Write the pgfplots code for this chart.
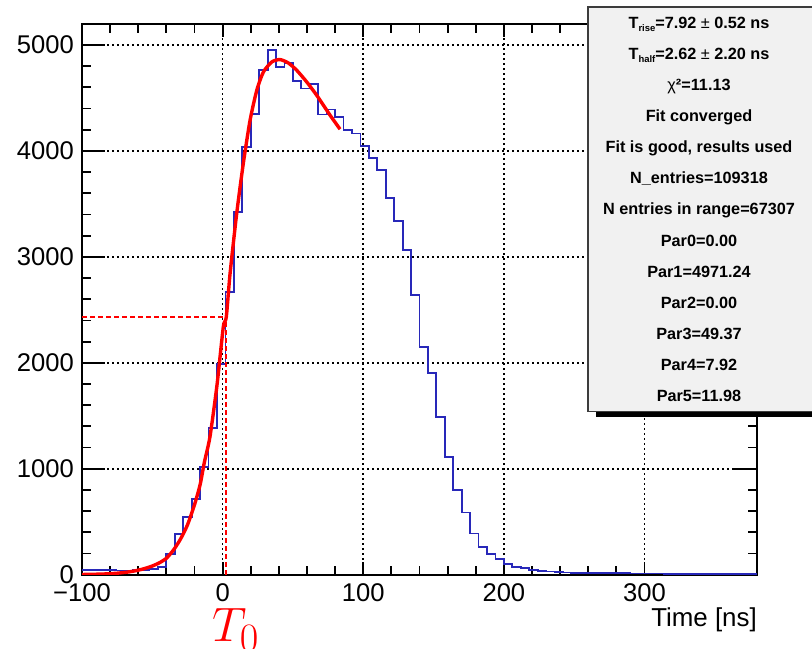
\documentclass[border=0pt]{standalone}
\usepackage{fontspec}
\setmainfont{Liberation Sans}
\usepackage{pgfplots}
\pgfplotsset{compat=1.18}
\usepackage{pgfplotstable}
\definecolor{histblue}{RGB}{40,40,185}
\definecolor{boxgray}{RGB}{241,241,241}
\definecolor{boxedge}{RGB}{60,60,60}

\pgfplotstableread{
x y
-100 45
-94 44
-88 43
-82 41
-76 39
-70 38
-64 42
-58 48
-52 53
-46 75
-40 192
-34 384
-28 547
-22 711
-16 1013
-10 1388
-4 1988
2 2670
8 3425
14 4038
20 4346
26 4761
32 4950
38 4792
44 4830
50 4657
56 4589
62 4629
68 4343
74 4390
80 4321
86 4195
92 4164
98 4045
104 3930
110 3820
116 3558
122 3335
128 3066
134 2638
140 2150
146 1906
152 1491
158 1111
164 803
170 587
176 389
182 264
188 193
194 145
200 100
206 70
212 62
218 45
224 35
230 30
236 24
242 20
248 18
254 17
260 16
266 15
272 14
278 14
284 13
290 12
296 12
302 11
308 11
314 10
320 10
326 9
332 9
338 9
344 8
350 8
356 8
362 7
368 7
374 7
380 7
}\histdata

\pgfplotstableread{
x y
-100 2
-92 4
-84 7
-76 13
-68 24
-62 37
-56 56
-50 82
-45 112
-40 155
-35 232
-30 335
-25 470
-20 660
-16 850
-13 1060
-9 1302
-4 1790
0.5 2340
2.6 2431
5.3 2843
10 3409
14.7 3881
19.5 4288
24.3 4573
29 4745
35 4840
40.8 4862
46.7 4830
52.7 4761
59.8 4651
66.9 4525
76.4 4337
83.5 4205
}\fitdata

\begin{document}
\begin{tikzpicture}
\useasboundingbox (0,0) rectangle (812bp,649bp);
\begin{axis}[
  at={(82bp,74.3bp)}, anchor=south west,
  width=675bp, height=550.4bp, scale only axis,
  xmin=-100, xmax=380, ymin=0, ymax=5195,
  xtick={-100,0,100,200,300}, xticklabels={−100,0,100,200,300},
  ytick={0,1000,2000,3000,4000,5000}, yticklabels={0,1000,2000,3000,4000,5000},
  minor x tick num=4, minor y tick num=4,
  tick align=inside,
  major tick length=13bp, minor tick length=9bp,
  extra y ticks={0,1000,2000,3000,4000,5000},
  extra y tick labels={},
  extra y tick style={major tick length=23bp, grid=none},
  grid=major,
  major grid style={black, line width=1.6bp, dash pattern=on 1.5bp off 3.5bp},
  axis line style={line width=2.2bp},
  tick style={black, line width=1.8bp},
  ticklabel style={font=\fontsize{25.7}{26}\selectfont},
  xticklabel style={inner sep=0pt, anchor=north, yshift=-9bp},
  yticklabel style={inner sep=0pt, anchor=east, xshift=-8bp},
  xlabel={Time [ns]},
  xlabel style={at={(rel axis cs:1,0)}, anchor=base east, inner sep=0pt, yshift=-51.3bp, font=\fontsize{26}{26}\selectfont},
]
\addplot[const plot mark left, histblue, line width=1.8bp] table {\histdata};
\addplot[red, line width=3.4bp, smooth, tension=0.4] table {\fitdata};
\addplot[red, line width=1.6bp, dash pattern=on 5bp off 3bp] coordinates {(2.6,0) (2.6,2431)};
\addplot[red, line width=1.6bp, dash pattern=on 5bp off 3bp] coordinates {(-100,2431) (2.6,2431)};
\end{axis}
\node[anchor=base west, inner sep=0pt, text=red] at (212bp,7bp) {\scalebox{1.95}{\fontsize{24.88}{25}\selectfont $\mathnormal{T}_0$}};
\fill[black] (596bp,231.7bp) rectangle (815bp,237.5bp);
\draw[fill=boxgray, draw=boxedge, line width=1.6bp] (588bp,237.3bp) rectangle (815bp,642bp);
\begin{scope}[every node/.style={anchor=base, inner sep=0pt, font=\bfseries\fontsize{16.3}{18}\selectfont}]
\node at (699bp,620.7bp) {T\raisebox{-0.35ex}{\fontsize{9.5}{10}\selectfont rise}=7.92 {\mdseries ±} 0.52 ns};
\node at (699bp,589.6bp) {T\raisebox{-0.35ex}{\fontsize{9.5}{10}\selectfont half}=2.62 {\mdseries ±} 2.20 ns};
\node at (699bp,558.5bp) {{\mdseries χ}²=11.13};
\node at (699bp,527.3bp) {Fit converged};
\node at (699bp,496.2bp) {Fit is good, results used};
\node at (699bp,465.1bp) {N\_entries=109318};
\node at (699bp,434.0bp) {N entries in range=67307};
\node at (699bp,402.8bp) {Par0=0.00};
\node at (699bp,371.7bp) {Par1=4971.24};
\node at (699bp,340.6bp) {Par2=0.00};
\node at (699bp,309.5bp) {Par3=49.37};
\node at (699bp,278.4bp) {Par4=7.92};
\node at (699bp,247.3bp) {Par5=11.98};
\end{scope}
\end{tikzpicture}
\end{document}
